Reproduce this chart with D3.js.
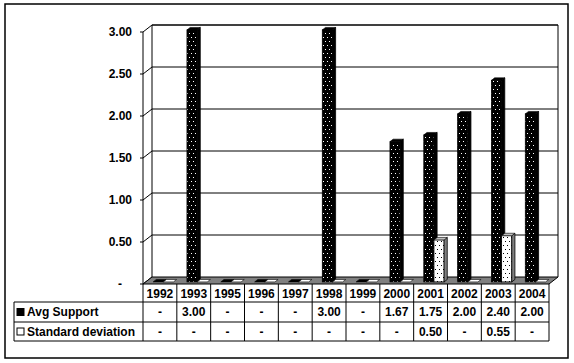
<!DOCTYPE html>
<html>
<head>
<meta charset="utf-8">
<script src="https://cdn.jsdelivr.net/npm/d3@7/dist/d3.min.js"></script>
<style>
  body { margin: 0; background: #fff; }
  svg text { font-family: "Liberation Sans", Arial, sans-serif; font-weight: bold; font-size: 12px; fill: #000; }
</style>
</head>
<body>
<svg id="chart" width="574" height="363"></svg>
<script>
// chart values
const years = ['1992', '1993', '1995', '1996', '1997', '1998', '1999', '2000', '2001', '2002', '2003', '2004'];
const seriesNames = ['Avg Support', 'Standard deviation'];
const avgSupport = [0, 3.00, 0, 0, 0, 3.00, 0, 1.67, 1.75, 2.00, 2.40, 2.00];
const stdDeviation = [0, 0, 0, 0, 0, 0, 0, 0, 0.50, 0, 0.55, 0];
const yTicks = [0, 0.5, 1, 1.5, 2, 2.5, 3];

const series = [avgSupport, stdDeviation];

// layout
const left = 143, right = 549;
const floorY = 284, topY = 32;
const depthX = 9, depthY = -7;
const tableLeft = 14, row1 = 302, row2 = 322, tableBottom = 341;

const svg = d3.select('#chart');

// patterns for the bars
const defs = svg.append('defs');
const pDark = defs.append('pattern').attr('id', 'dotsDark')
    .attr('patternUnits', 'userSpaceOnUse').attr('width', 4).attr('height', 8);
pDark.append('rect').attr('width', 4).attr('height', 8).attr('fill', '#000');
pDark.append('rect').attr('x', 1).attr('y', 1).attr('width', 1).attr('height', 1).attr('fill', '#fff');
pDark.append('rect').attr('x', 3).attr('y', 5).attr('width', 1).attr('height', 1).attr('fill', '#fff');

const pLight = defs.append('pattern').attr('id', 'dotsLight')
    .attr('patternUnits', 'userSpaceOnUse').attr('width', 4).attr('height', 8);
pLight.append('rect').attr('width', 4).attr('height', 8).attr('fill', '#fff');
pLight.append('rect').attr('x', 1).attr('y', 1).attr('width', 1).attr('height', 1).attr('fill', '#000');
pLight.append('rect').attr('x', 3).attr('y', 5).attr('width', 1).attr('height', 1).attr('fill', '#000');

// scales
const x = d3.scaleBand().domain(years).range([left, right]);
const x1 = d3.scaleBand().domain(seriesNames).range([x.bandwidth() * 0.22, x.bandwidth() * 0.82]);
const y = d3.scaleLinear().domain([0, 3]).range([floorY, topY]);

// project a point to a depth fraction t (0 = front, 1 = back wall)
const pt = (px, py, t) => [px + depthX * t, py + depthY * t];
const poly = pts => pts.map(p => p.join(',')).join(' ');

// outer frame
svg.append('rect').attr('x', 5).attr('y', 4).attr('width', 563).attr('height', 354)
    .attr('fill', 'none').attr('stroke', '#000').attr('stroke-width', 1.5);

// back wall
const back = svg.append('g');
back.append('polyline')
    .attr('points', poly([pt(left, floorY, 1), pt(left, y(3), 1), pt(right, y(3), 1), pt(right, floorY, 1)]))
    .attr('fill', 'none').attr('stroke', '#000');

// gridlines on back wall + side diagonals + ticks
yTicks.forEach(v => {
  const b0 = pt(left, y(v), 1), b1 = pt(right, y(v), 1);
  if (v > 0) {
    back.append('line').attr('x1', b0[0]).attr('y1', b0[1]).attr('x2', b1[0]).attr('y2', b1[1])
        .attr('stroke', '#000');
  }
  back.append('line').attr('x1', left).attr('y1', y(v)).attr('x2', b0[0]).attr('y2', b0[1])
      .attr('stroke', '#000');
  back.append('line').attr('x1', left - 3).attr('y1', y(v)).attr('x2', left).attr('y2', y(v))
      .attr('stroke', '#000');
  back.append('text')
      .attr('x', v === 0 ? 120 : 132).attr('y', y(v)).attr('dy', '0.35em')
      .attr('text-anchor', v === 0 ? 'middle' : 'end')
      .text(v === 0 ? '-' : v.toFixed(2));
});

// front axis line
svg.append('line').attr('x1', left).attr('y1', topY).attr('x2', left).attr('y2', tableBottom)
    .attr('stroke', '#000');

// floor
svg.append('polygon')
    .attr('points', poly([pt(left, floorY, 0), pt(right, floorY, 0), pt(right, floorY, 1), pt(left, floorY, 1)]))
    .attr('fill', '#808080').attr('stroke', '#000');

// bars
const t0 = 0.3, t1 = 0.65;
const styles = [
  { front: 'url(#dotsDark)', side: '#000', top: '#000' },
  { front: 'url(#dotsLight)', side: '#808080', top: '#c0c0c0' }
];

years.forEach((yr, i) => {
  series.forEach((vals, s) => {
    const v = vals[i];
    const xa = x(yr) + x1(seriesNames[s]);
    const xb = xa + x1.bandwidth();
    const yv = y(v);
    const st = styles[s];
    const g = svg.append('g');
    if (v > 0) {
      const f0 = pt(xa, yv, t0), f1 = pt(xb, floorY, t0);
      g.append('rect').attr('x', f0[0]).attr('y', f0[1])
          .attr('width', f1[0] - f0[0]).attr('height', f1[1] - f0[1])
          .attr('fill', st.front).attr('stroke', '#000').attr('stroke-width', 0.8);
      g.append('polygon')
          .attr('points', poly([pt(xb, yv, t0), pt(xb, yv, t1), pt(xb, floorY, t1), pt(xb, floorY, t0)]))
          .attr('fill', st.side).attr('stroke', '#000').attr('stroke-width', 0.8);
    }
    g.append('polygon')
        .attr('points', poly([pt(xa, yv, t0), pt(xb, yv, t0), pt(xb, yv, t1), pt(xa, yv, t1)]))
        .attr('fill', v > 0 ? st.top : (s === 0 ? '#000' : '#fff'))
        .attr('stroke', '#000').attr('stroke-width', 0.6);
  });
});

// data table
const table = svg.append('g');
const hline = (x1p, x2p, yp) => table.append('line').attr('x1', x1p).attr('x2', x2p)
    .attr('y1', yp).attr('y2', yp).attr('stroke', '#000');
const vline = (xp, y1p, y2p) => table.append('line').attr('x1', xp).attr('x2', xp)
    .attr('y1', y1p).attr('y2', y2p).attr('stroke', '#000');

hline(tableLeft, right, row1);
hline(tableLeft, right, row2);
hline(tableLeft, right, tableBottom);
vline(tableLeft, row1, tableBottom);
years.forEach(yr => vline(x(yr) + x.bandwidth(), floorY, tableBottom));

table.selectAll('.yr').data(years).enter().append('text')
    .attr('x', d => x(d) + x.bandwidth() / 2).attr('y', (floorY + row1) / 2 + 1).attr('dy', '0.35em')
    .attr('text-anchor', 'middle').text(d => d);

const rowY = [(row1 + row2) / 2, (row2 + tableBottom) / 2];
series.forEach((vals, s) => {
  table.append('rect').attr('x', 17).attr('y', rowY[s] - 3.5).attr('width', 7).attr('height', 7)
      .attr('fill', s === 0 ? '#000' : '#fff').attr('stroke', '#000');
  table.append('text').attr('x', 27).attr('y', rowY[s]).attr('dy', '0.35em').text(seriesNames[s]);
  table.selectAll('.v' + s).data(vals).enter().append('text')
      .attr('x', (d, i) => x(years[i]) + x.bandwidth() / 2).attr('y', rowY[s]).attr('dy', '0.35em')
      .attr('text-anchor', 'middle').text(d => d > 0 ? d.toFixed(2) : '-');
});
</script>
</body>
</html>
